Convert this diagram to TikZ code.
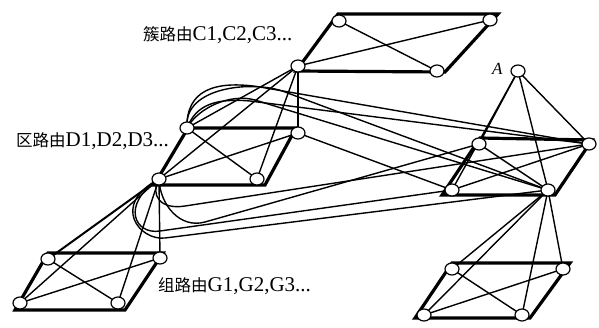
\documentclass[tikz,border=0pt]{standalone}
\usepackage{fontspec}
\setmainfont{Liberation Serif}
\newfontfamily\cjk{Noto Sans CJK SC}
\usetikzlibrary{shapes.geometric,backgrounds}
\begin{document}
\begin{tikzpicture}[x=1pt,y=-1pt,
  vtx/.style={ellipse,draw,fill=white,line width=1.2pt,minimum width=14pt,minimum height=12pt,inner sep=0pt},
  link/.style={line width=1.4pt},
  rim/.style={line width=3.2pt,line join=miter},
  lbl/.style={font=\fontsize{21}{21}\selectfont,anchor=base west,inner sep=0pt}
]
\useasboundingbox (0,0) rectangle (599,327);
% cluster C
\node[vtx] (ctl) at (339,21) {};
\node[vtx] (ctr) at (490,20) {};
\node[vtx] (cbl) at (298,66) {};
\node[vtx] (cbr) at (437,71) {};
% cluster D
\node[vtx] (dtl) at (187,128) {};
\node[vtx] (dtr) at (298,133) {};
\node[vtx] (dbl) at (159,179) {};
\node[vtx] (dbr) at (257,179) {};
% cluster G
\node[vtx] (gtl) at (48,259) {};
\node[vtx] (gtr) at (160,258) {};
\node[vtx] (gbl) at (20,303) {};
\node[vtx] (gbr) at (118,303) {};
% cluster E
\node[vtx] (a) at (518,71) {};
\node[vtx] (etl) at (479,144) {};
\node[vtx] (etr) at (589,144) {};
\node[vtx] (ebl) at (452,190) {};
\node[vtx] (ebr) at (548,190) {};
% cluster F
\node[vtx] (ftl) at (452,269) {};
\node[vtx] (ftr) at (563,269) {};
\node[vtx] (fbl) at (424,315) {};
\node[vtx] (fbr) at (522,315) {};
% labels
\node[lbl] (lc) at (143,40) {{\cjk\fontsize{16.5}{16.5}\selectfont 簇路由}C1,C2,C3...};
\node[lbl] (ld) at (16,146) {{\cjk\fontsize{16.5}{16.5}\selectfont 区路由}D1,D2,D3...};
\node[lbl] (lg) at (158,291) {{\cjk\fontsize{16.5}{16.5}\selectfont 组路由}G1,G2,G3...};
\node[font=\fontsize{17}{17}\selectfont\itshape,anchor=base west,inner sep=0pt] (la) at (492,74) {A};
\begin{pgfonlayer}{background}
% outlines
\draw[rim] (338,14) -- (498,14) -- (445,72) -- (296,71) -- cycle;
\draw[rim] (188,128) -- (296,128) -- (265,185) -- (154,185) -- cycle;
\draw[rim] (48,253) -- (163,253) -- (125,310) -- (15,310) -- cycle;
\draw[rim] (480,138) -- (592,140) -- (555,195) -- (442,195) -- cycle;
\draw[rim] (452,263) -- (570,263) -- (530,318) -- (415,318) -- cycle;
% diagonals
\foreach \p in {c,d,g,e,f}{
  \draw[link] (\p tl.center) -- (\p br.center);
  \draw[link] (\p bl.center) -- (\p tr.center);
}
% hub fans
\foreach \q in {tl,tr,bl,br}{
  \draw[link] (cbl.center) -- (d\q.center);
  \draw[link] (a.center) -- (e\q.center);
  \draw[link] (ebr.center) -- (f\q.center);
}
\draw[link] (dbl.center) -- (gtr.center);
\draw[link] (dbl.center) -- (gbl.center);
\draw[link] (dbl.center) -- (gbr.center);
\draw[line width=2pt] (dbl.center) -- (gtl.center);
% long connectors upper loops
\draw[link] (dtl.center) .. controls (186,90) and (215,80) .. (260,87) -- (etr.center);
\draw[link] (dtl.center) .. controls (183,86) and (255,80) .. (285,92) -- (ebr.center);
\draw[link] (dtl.center) .. controls (196,105) and (215,98) .. (250,101) -- (etr.center);
\draw[link] (dtl.center) .. controls (198,108) and (230,93) .. (255,100) -- (ebr.center);
\draw[link] (dtr.center) -- (ebl.center);
% long connectors lower loops
\draw[link] (dbl.center) .. controls (150,195) and (160,210) .. (185,206) -- (etr.center);
\draw[link] (dbl.center) .. controls (160,205) and (180,229) .. (205,222) -- (etl.center);
\draw[link] (dbl.center) .. controls (120,205) and (135,235) .. (160,231) -- (ebl.center);
\draw[link] (dbl.center) .. controls (110,205) and (140,241) .. (165,238) -- (ebr.center);
\end{pgfonlayer}
\end{tikzpicture}
\end{document}
